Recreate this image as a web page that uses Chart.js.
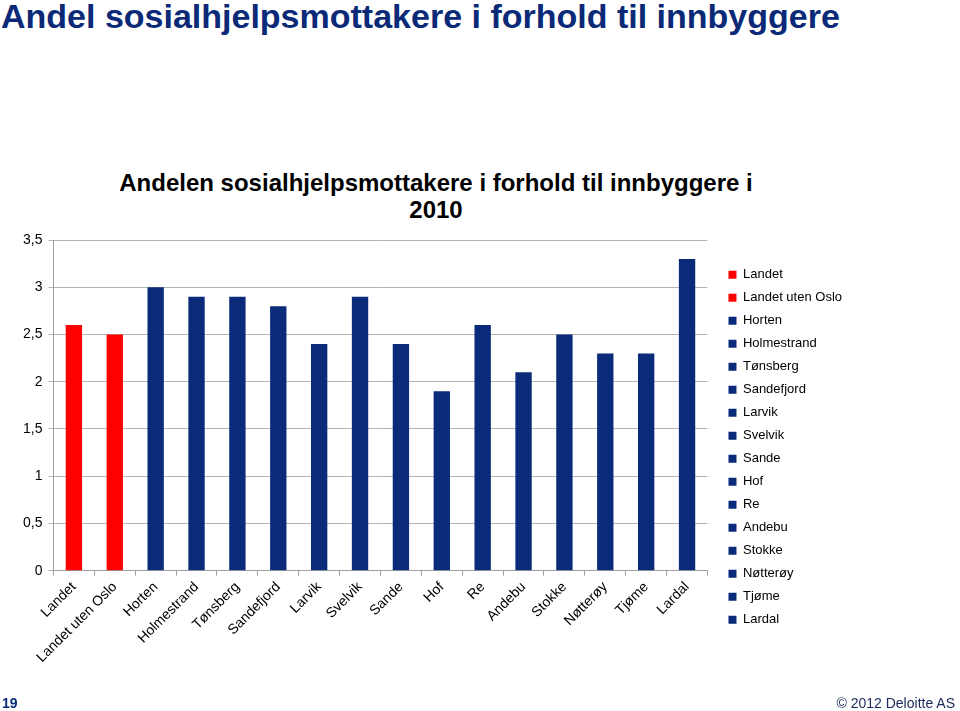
<!DOCTYPE html>
<html>
<head>
<meta charset="utf-8">
<script src="https://cdn.jsdelivr.net/npm/chart.js@4.4.1/dist/chart.umd.min.js"></script>
<style>
    body { margin: 0; width: 960px; height: 711px; background: #fff; font-family: "Liberation Sans", Arial, sans-serif; position: relative; overflow: hidden; }
    .page-title { position: absolute; left: 1px; top: -3px; font-size: 34px; font-weight: bold; color: #0a2a78; white-space: nowrap; }
    .chart-title { position: absolute; left: 86px; width: 700px; top: 169px; text-align: center; font-size: 24px; font-weight: bold; line-height: 27px; color: #000; }
    .chart-box { position: absolute; left: 0; top: 200px; width: 960px; height: 500px; }
    .page-no { position: absolute; left: 2px; top: 695px; font-size: 14px; font-weight: bold; color: #0a2a78; }
    .copy { position: absolute; right: 5px; top: 695px; font-size: 14px; color: #1a2a5a; }
</style>
</head>
<body>
<div class="page-title">Andel sosialhjelpsmottakere i forhold til innbyggere</div>
<div class="chart-title">Andelen sosialhjelpsmottakere i forhold til innbyggere i<br>2010</div>
<div class="chart-box"><canvas id="barChart"></canvas></div>
<div class="page-no">19</div>
<div class="copy">© 2012 Deloitte AS</div>

<script>
const kommuner = ['Landet', 'Landet uten Oslo', 'Horten', 'Holmestrand', 'Tønsberg', 'Sandefjord', 'Larvik', 'Svelvik',
    'Sande', 'Hof', 'Re', 'Andebu', 'Stokke', 'Nøtterøy', 'Tjøme', 'Lardal'];
const andel = [2.6, 2.5, 3.0, 2.9, 2.9, 2.8, 2.4, 2.9, 2.4, 1.9, 2.6, 2.1, 2.5, 2.3, 2.3, 3.3];
const yTicks = [0, 0.5, 1, 1.5, 2, 2.5, 3, 3.5];

const red = '#ff0000';
const navy = '#0a2a7a';
const barColors = kommuner.map((k, i) => i < 2 ? red : navy);
const fam = '"Liberation Sans", Arial, sans-serif';

new Chart(document.getElementById('barChart'), {
    type: 'bar',
    data: {
        labels: kommuner,
        datasets: [{
            label: 'Andel',
            data: andel,
            backgroundColor: barColors,
            categoryPercentage: 1,
            barPercentage: 0.4
        }]
    },
    options: {
        responsive: true,
        maintainAspectRatio: false,
        animation: false,
        layout: { padding: { left: 17, top: 40, right: 108, bottom: 31 } },
        plugins: {
            title: { display: false },
            tooltip: { enabled: false },
            legend: {
                display: true,
                position: 'right',
                align: 'start',
                title: { display: true, text: ' ', font: { size: 1 }, padding: { top: 17, bottom: 0 } },
                labels: {
                    boxWidth: 8,
                    boxHeight: 8,
                    padding: 10,
                    color: '#000',
                    font: { family: fam, size: 13 },
                    generateLabels: function (chart) {
                        return kommuner.map((k, i) => ({
                            text: k,
                            fillStyle: barColors[i],
                            strokeStyle: barColors[i],
                            fontColor: '#000',
                            lineWidth: 0,
                            index: i
                        }));
                    }
                }
            }
        },
        scales: {
            x: {
                grid: { display: true, drawOnChartArea: false, drawTicks: true, tickLength: 5, color: '#a0a0a0', offset: true },
                border: { color: '#a0a0a0' },
                ticks: {
                    color: '#000',
                    minRotation: 45,
                    maxRotation: 45,
                    autoSkip: false,
                    font: { family: fam, size: 14 }
                }
            },
            y: {
                min: 0,
                max: 3.5,
                afterBuildTicks: axis => { axis.ticks = yTicks.map(v => ({ value: v })); },
                grid: { color: '#b4b4b4', tickLength: 5 },
                border: { color: '#a0a0a0' },
                ticks: {
                    color: '#000',
                    padding: 6,
                    font: { family: fam, size: 14 },
                    callback: v => String(v).replace('.', ',')
                }
            },
            // empty spacer between plot and legend
            gap: {
                position: 'right',
                display: true,
                grid: { display: false, drawTicks: false },
                border: { display: false },
                ticks: { display: false },
                afterFit: axis => { axis.width = 11; }
            }
        }
    }
});
</script>
</body>
</html>
